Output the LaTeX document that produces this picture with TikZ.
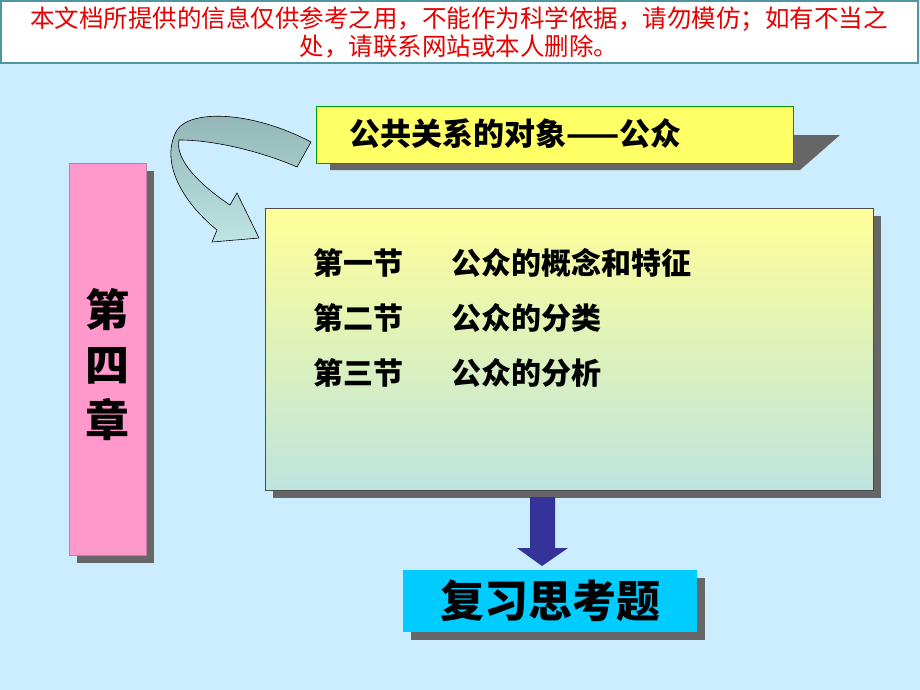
\documentclass[tikz,border=0pt]{standalone}
\usepackage{fontspec}
\newfontfamily\cjk{Noto Sans CJK SC}
\usetikzlibrary{positioning,shadows}
\definecolor{skybg}{RGB}{204,236,255}
\definecolor{warnred}{RGB}{230,0,0}
\definecolor{bannerteal}{RGB}{80,150,160}
\definecolor{pinkbox}{RGB}{255,153,204}
\definecolor{lemon}{RGB}{255,255,102}
\definecolor{palelemon}{RGB}{255,255,153}
\definecolor{paleteal}{RGB}{190,228,222}
\definecolor{navy}{RGB}{51,51,153}
\definecolor{cyanbox}{RGB}{0,204,255}
\definecolor{arrowdark}{RGB}{145,180,180}
\definecolor{arrowlight}{RGB}{190,228,228}
\tikzset{
  shade box/.style={fill=gray!80!black, draw=none},
  title/.style={font=\cjk\bfseries\fontsize{31}{36}\selectfont, anchor=west},
  item/.style={font=\cjk\bfseries\fontsize{30}{34}\selectfont, anchor=west},
}
\begin{document}
\begin{tikzpicture}[x=1pt,y=-1pt]
  \useasboundingbox (0,0) rectangle (920,690);
  \fill[skybg] (0,0) rectangle (920,690);
  % warning banner
  \draw[bannerteal, fill=white, line width=1.2pt] (1,1) rectangle (918,63);
  \node[text=warnred, font=\cjk\fontsize{24.5}{28}\selectfont, align=center] (warn) at (459,32)
    {本文档所提供的信息仅供参考之用，不能作为科学依据，请勿模仿；如有不当之\\处，请联系网站或本人删除。};
  % chapter column
  \fill[shade box] (77,171) rectangle (154,563);
  \draw[pinkbox!80!black, fill=pinkbox] (69,163) rectangle (146,555);
  \node[font=\cjk\bfseries\fontsize{44}{55}\selectfont, align=center] (chap) at (107,365) {第\\四\\章};
  % title banner
  \fill[shade box] (330,135) -- (840,135) -- (800,170) -- (330,170) -- cycle;
  \draw[green!60!black, fill=lemon] (316,106) rectangle (793,163);
  \node[title] (topic) at (346,134) {公共关系的对象——公众};
  % sections box
  \fill[shade box] (273,216) rectangle (881,498);
  \shade[top color=palelemon, bottom color=paleteal, draw=black!70] (265,208) rectangle (873,490);
  \foreach \n/\sec/\txt/\y in {1/第一节/公众的概念和特征/263, 2/第二节/公众的分类/318, 3/第三节/公众的分析/373}{
    \node[item] (sec\n) at (310,\y) {\sec};
    \node[item] (txt\n) at (448,\y) {\txt};
  }
  % curved arrow
  \shade[top color=arrowdark, bottom color=arrowlight, draw=black, line width=0.6pt]
    (311,142) .. controls (250,110) and (190,110) .. (177,130)
    .. controls (160,160) and (180,200) .. (217,230) -- (212,242) -- (259,238)
    -- (237,193) -- (230,205) .. controls (200,185) and (175,160) .. (179,140)
    .. controls (220,140) and (270,155) .. (297,167) -- cycle;
  % down arrow
  \fill[navy] (530,497) -- (555,497) -- (555,548) -- (568,548) -- (542,566)
    -- (517,548) -- (530,548) -- cycle;
  % review box
  \fill[shade box] (411,578) rectangle (705,640);
  \fill[cyanbox] (403,570) rectangle (697,632);
  \node[font=\cjk\bfseries\fontsize{44}{50}\selectfont] (review) at (550,601) {复习思考题};
\end{tikzpicture}
\end{document}
